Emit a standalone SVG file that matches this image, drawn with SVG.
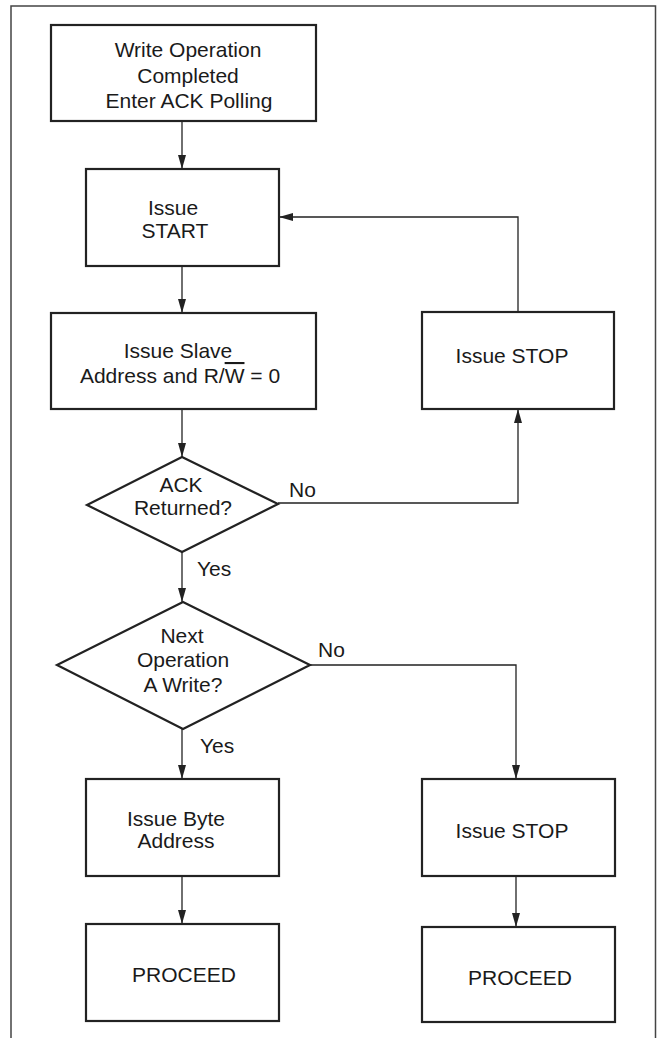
<svg xmlns="http://www.w3.org/2000/svg" width="657" height="1038" viewBox="0 0 657 1038">
<style>
.box{fill:#fff;stroke:#222;stroke-width:2.2}
.t{font-family:"Liberation Sans",Arial,sans-serif;font-size:21px;fill:#1a1a1a;text-anchor:middle}
.lbl{font-family:"Liberation Sans",Arial,sans-serif;font-size:21px;fill:#1a1a1a}
.c{fill:none;stroke:#222;stroke-width:1.3}
.frame{fill:none;stroke:#444;stroke-width:1.5}
</style>
<defs>
<marker id="arr" markerUnits="userSpaceOnUse" markerWidth="14" markerHeight="10" viewBox="0 0 14 10" refX="14" refY="5" orient="auto">
<path d="M0,1 L14,5 L0,9 Z" fill="#222"/>
</marker>
</defs>
<rect width="657" height="1038" fill="#fff"/>
<path class="frame" d="M11,1038 V6 H655.5 V1038"/>
<g id="connectors">
<path class="c" d="M182,121 V169" marker-end="url(#arr)"/>
<path class="c" d="M182,266 V313" marker-end="url(#arr)"/>
<path class="c" d="M182,409 V457" marker-end="url(#arr)"/>
<path class="c" d="M182,552 V602" marker-end="url(#arr)"/>
<path class="c" d="M278,503 H518 V409" marker-end="url(#arr)"/>
<path class="c" d="M518,312 V217 H279" marker-end="url(#arr)"/>
<path class="c" d="M310,665 H516 V779" marker-end="url(#arr)"/>
<path class="c" d="M182,729 V779" marker-end="url(#arr)"/>
<path class="c" d="M182,876 V924" marker-end="url(#arr)"/>
<path class="c" d="M516,876 V927" marker-end="url(#arr)"/>
<text class="lbl" x="289" y="497">No</text>
<text class="lbl" x="197" y="576">Yes</text>
<text class="lbl" x="318" y="657">No</text>
<text class="lbl" x="200" y="753">Yes</text>
</g>
<g id="n1">
<rect class="box" x="51" y="25" width="265" height="96"/>
<text class="t" x="188" y="57">Write Operation</text>
<text class="t" x="188" y="83">Completed</text>
<text class="t" x="189" y="108">Enter ACK Polling</text>
</g>
<g id="n2">
<rect class="box" x="86" y="169" width="193" height="97"/>
<text class="t" x="173" y="215">Issue</text>
<text class="t" x="175" y="238">START</text>
</g>
<g id="n3">
<rect class="box" x="51" y="313" width="265" height="96"/>
<text class="t" x="178" y="358">Issue Slave</text>
<text class="t" x="180" y="383">Address and R/<tspan text-decoration="overline">W</tspan> = 0</text>
</g>
<g id="n4">
<rect class="box" x="422" y="312" width="192" height="97"/>
<text class="t" x="512" y="363">Issue STOP</text>
</g>
<g id="n5">
<polygon class="box" points="182,457 278,504 182,552 87,505"/>
<text class="t" x="181" y="492">ACK</text>
<text class="t" x="183" y="515">Returned?</text>
</g>
<g id="n6">
<polygon class="box" points="183,602 310,665 183,729 57,665"/>
<text class="t" x="182" y="643">Next</text>
<text class="t" x="183" y="667">Operation</text>
<text class="t" x="183" y="692">A Write?</text>
</g>
<g id="n7">
<rect class="box" x="86" y="779" width="193" height="97"/>
<text class="t" x="176" y="826">Issue Byte</text>
<text class="t" x="176" y="848">Address</text>
</g>
<g id="n8">
<rect class="box" x="86" y="924" width="193" height="97"/>
<text class="t" x="184" y="982">PROCEED</text>
</g>
<g id="n9">
<rect class="box" x="422" y="779" width="193" height="97"/>
<text class="t" x="512" y="838">Issue STOP</text>
</g>
<g id="n10">
<rect class="box" x="422" y="927" width="193" height="95"/>
<text class="t" x="520" y="985">PROCEED</text>
</g>
</svg>
